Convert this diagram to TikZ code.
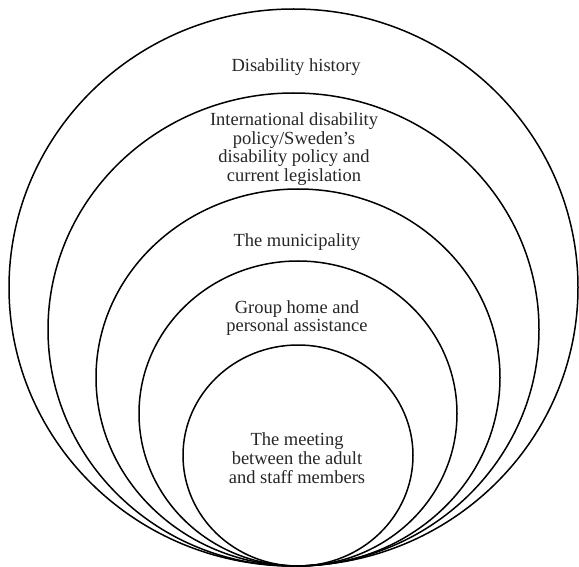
\documentclass[tikz,border=0pt]{standalone}
\usepackage{fontspec}
\setmainfont{Liberation Serif}
\begin{document}
\begin{tikzpicture}[x=1pt,y=-1pt,
  ring/.style={draw=black,line width=1.5pt},
  label/.style={align=center,inner sep=0pt,font=\fontsize{18.5}{18.8}\selectfont,text=black!85}]
\useasboundingbox (0,0) rectangle (579,567);
\draw[ring] (293.5,287.5) ellipse [x radius=284.5pt, y radius=278.5pt];
\draw[ring] (293.5,329.5) ellipse [x radius=245.5pt, y radius=236.5pt];
\draw[ring] (298,377.5) ellipse [x radius=202pt, y radius=188.5pt];
\draw[ring] (298,413.5) ellipse [x radius=159pt, y radius=152.5pt];
\draw[ring] (298,455.5) ellipse [x radius=115pt, y radius=110.5pt];
\node[label] (hist) at (296,67) {Disability history};
\node[label] (intl) at (294,149) {International disability\\policy/Sweden’s\\disability policy and\\current legislation};
\node[label] (mun) at (297,242) {The municipality};
\node[label] (home) at (297,318) {Group home and\\personal assistance};
\node[label] (meet) at (297,458) {The meeting\\between the adult\\and staff members};
\end{tikzpicture}
\end{document}
